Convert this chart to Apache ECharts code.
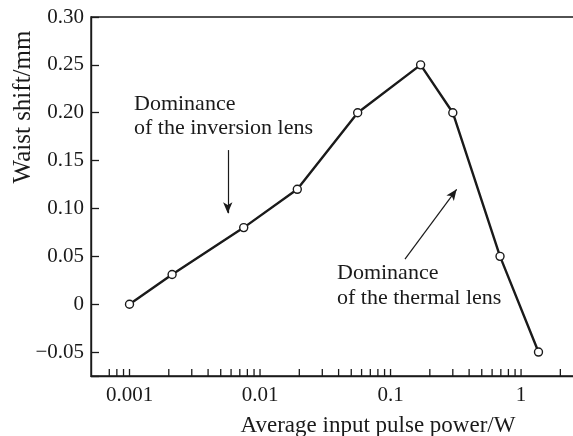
<!DOCTYPE html>
<html>
<head>
<meta charset="utf-8">
<title>Waist shift vs average input pulse power</title>
<script src="https://cdn.jsdelivr.net/npm/echarts@6/dist/echarts.min.js"></script>
<style>
  html, body { margin: 0; padding: 0; background: #fff; }
  #chart { width: 573px; height: 436px; }
</style>
</head>
<body>
<div id="chart"></div>
<script>
// measured points (power in W, waist shift in mm)
var power = [0.001, 0.00212, 0.0075, 0.0193, 0.056, 0.17, 0.30, 0.69, 1.36];
var shift = [0, 0.031, 0.08, 0.12, 0.20, 0.25, 0.20, 0.05, -0.05];

// x axis ticks
var xMajor = [0.001, 0.01, 0.1, 1];
var xMajorLabels = ['0.001', '0.01', '0.1', '1'];
var xMinor = [0.0007, 0.0008, 0.0009,
  0.002, 0.003, 0.004, 0.005, 0.006, 0.007, 0.008, 0.009,
  0.02, 0.03, 0.04, 0.05, 0.06, 0.07, 0.08, 0.09,
  0.2, 0.3, 0.4, 0.5, 0.6, 0.7, 0.8, 0.9, 2];

// annotation arrows, in data coordinates [from, to]
var arrowInversion = [[0.00566, 0.161], [0.00566, 0.095]];
var arrowThermal = [[0.129, 0.047], [0.321, 0.12]];

var X_MIN = 0.000507, X_MAX = 2.59;
var Y_MIN = -0.075, Y_MAX = 0.30;

var FONT = '"Liberation Serif", "Times New Roman", serif';
var INK = '#1a1a1a';

var pts = power.map(function (p, i) { return [p, shift[i]]; });
var tickData = xMajor.concat(xMinor).map(function (v) { return [v, Y_MIN]; });

var chart = echarts.init(document.getElementById('chart'));

option = {
    animation: false,
    backgroundColor: '#fff',
    grid: {
        left: 91, top: 17, width: 484, bottom: 60,
        containLabel: false,
        outerBoundsMode: 'none',
        show: true, borderColor: INK, borderWidth: 1.4
    },
    xAxis: {
        type: 'log',
        logBase: 10,
        min: X_MIN,
        max: X_MAX,
        splitLine: {show: false},
        axisLine: {onZero: false, lineStyle: {color: INK, width: 1.4}},
        axisTick: {show: false},
        axisLabel: {
            margin: 9,
            color: INK,
            fontFamily: FONT,
            fontSize: 21,
            formatter: function (v) {
                for (var i = 0; i < xMajor.length; i++) {
                    if (Math.abs(v / xMajor[i] - 1) < 1e-6) return xMajorLabels[i];
                }
                return '';
            }
        }
    },
    yAxis: {
        type: 'value',
        min: Y_MIN,
        max: Y_MAX,
        splitNumber: 7,
        splitLine: {show: false},
        axisLine: {show: true, onZero: false, lineStyle: {color: INK, width: 1.4}},
        axisTick: {show: true, inside: true, length: 8, lineStyle: {color: INK, width: 1.3}},
        axisLabel: {
            margin: 7,
            color: INK,
            fontFamily: FONT,
            fontSize: 21,
            formatter: function (v) {
                if (Math.abs(v * 20 - Math.round(v * 20)) > 1e-6) return '';
                if (Math.abs(v) < 1e-9) return '0';
                return (v < 0 ? '\u2212' : '') + Math.abs(v).toFixed(2);
            }
        }
    },
    graphic: [
        {type: 'text', x: 23, y: 107, rotation: Math.PI / 2,
         style: {text: 'Waist shift/mm', font: '25px ' + FONT, fill: INK, textAlign: 'center', textVerticalAlign: 'middle'}},
        {type: 'text', x: 378, y: 426,
         style: {text: 'Average input pulse power/W', font: '23px ' + FONT, fill: INK, textAlign: 'center', textVerticalAlign: 'middle'}},
        {type: 'text', x: 134, y: 104,
         style: {text: 'Dominance', font: '22px ' + FONT, fill: INK, textAlign: 'left', textVerticalAlign: 'middle'}},
        {type: 'text', x: 134, y: 128,
         style: {text: 'of the inversion lens', font: '22px ' + FONT, fill: INK, textAlign: 'left', textVerticalAlign: 'middle'}},
        {type: 'text', x: 337, y: 273,
         style: {text: 'Dominance', font: '22px ' + FONT, fill: INK, textAlign: 'left', textVerticalAlign: 'middle'}},
        {type: 'text', x: 337, y: 298,
         style: {text: 'of the thermal lens', font: '22px ' + FONT, fill: INK, textAlign: 'left', textVerticalAlign: 'middle'}}
    ],
    series: [
        {
            type: 'custom',
            silent: true,
            z: 5,
            clip: true,
            data: tickData,
            renderItem: function (params, api) {
                var p = api.coord([api.value(0), api.value(1)]);
                return {
                    type: 'line',
                    shape: {x1: p[0], y1: p[1], x2: p[0], y2: p[1] - 7},
                    style: {stroke: INK, lineWidth: 1.3}
                };
            }
        },
        {
            type: 'line',
            data: pts,
            symbol: 'circle',
            symbolSize: 8,
            z: 3,
            lineStyle: {color: INK, width: 2.4},
            itemStyle: {color: '#fff', borderColor: INK, borderWidth: 1.4},
            markLine: {
                silent: true,
                symbol: ['none', 'arrow'],
                symbolSize: [7, 11],
                label: {show: false},
                lineStyle: {color: INK, width: 1.2, type: 'solid'},
                data: [
                    [{coord: arrowInversion[0]}, {coord: arrowInversion[1]}],
                    [{coord: arrowThermal[0]}, {coord: arrowThermal[1]}]
                ]
            }
        }
    ]
};

chart.setOption(option);
</script>
</body>
</html>
